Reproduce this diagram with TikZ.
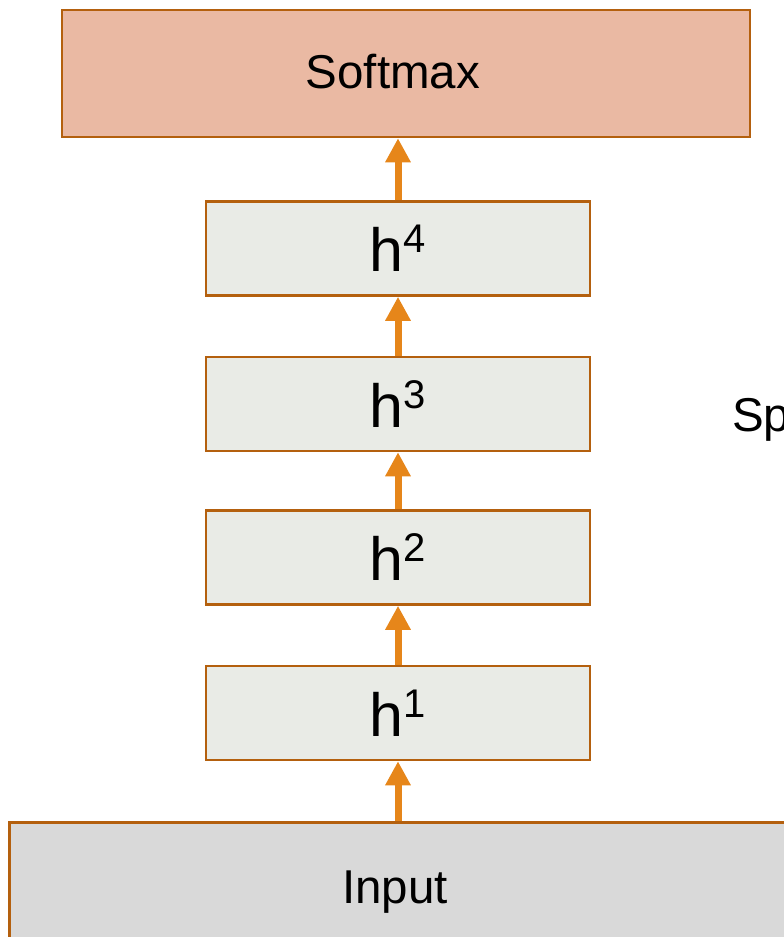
\documentclass[tikz,border=0pt]{standalone}
\usepackage{fontspec}
\setmainfont{Liberation Sans}
\usetikzlibrary{arrows.meta}
\definecolor{edgebrown}{HTML}{B4600E}
\definecolor{softfill}{HTML}{EAB9A3}
\definecolor{hidfill}{HTML}{E9EBE6}
\definecolor{infill}{HTML}{D9D9D9}
\definecolor{arrorange}{HTML}{E6861A}
\tikzset{
  box/.style={draw=edgebrown, line width=2.5pt, rectangle, inner sep=0pt},
  softbox/.style={box, fill=softfill, minimum width=688pt, minimum height=127pt},
  hidbox/.style={box, fill=hidfill, minimum width=384pt, minimum height=94pt},
  inbox/.style={box, fill=infill, minimum width=900pt, minimum height=200pt, anchor=north west},
  bigtxt/.style={font=\fontsize{47.5}{50}\selectfont, inner sep=0pt},
  flow/.style={draw=arrorange, line width=7pt, -{Triangle[width=24pt,length=24pt]}, arrorange},
}
\newcommand{\hlabel}[1]{\fontsize{61}{61}\selectfont h\raisebox{19pt}{\fontsize{40}{40}\selectfont #1}}
\begin{document}
\begin{tikzpicture}[x=1pt, y=-1pt]
  \useasboundingbox (0,0) rectangle (784,937);
  % output layer
  \node[softbox] (softmax) at (406,73.5) {};
  \node[bigtxt, anchor=base] (softtxt) at (393,88) {Softmax};
  % hidden layers
  \node[hidbox] (h4) at (398,248.5) {\hlabel{4}};
  \node[hidbox] (h3) at (398,404) {\hlabel{3}};
  \node[hidbox] (h2) at (398,557.5) {\hlabel{2}};
  \node[hidbox] (h1) at (398,713) {\hlabel{1}};
  % input block, running past the frame
  \node[inbox] (input) at (8,821) {};
  \node[bigtxt, anchor=base] (intxt) at (395,903) {Input};
  % partly visible side caption
  \node[bigtxt, anchor=base west] (side) at (732,431) {Sp};
  % connections
  \draw[flow] (input.north -| h1.south) -- (h1.south);
  \draw[flow] (h1.north) -- (h2.south);
  \draw[flow] (h2.north) -- (h3.south);
  \draw[flow] (h3.north) -- (h4.south);
  \draw[flow] (h4.north) -- (h4.north |- softmax.south);
\end{tikzpicture}
\end{document}
